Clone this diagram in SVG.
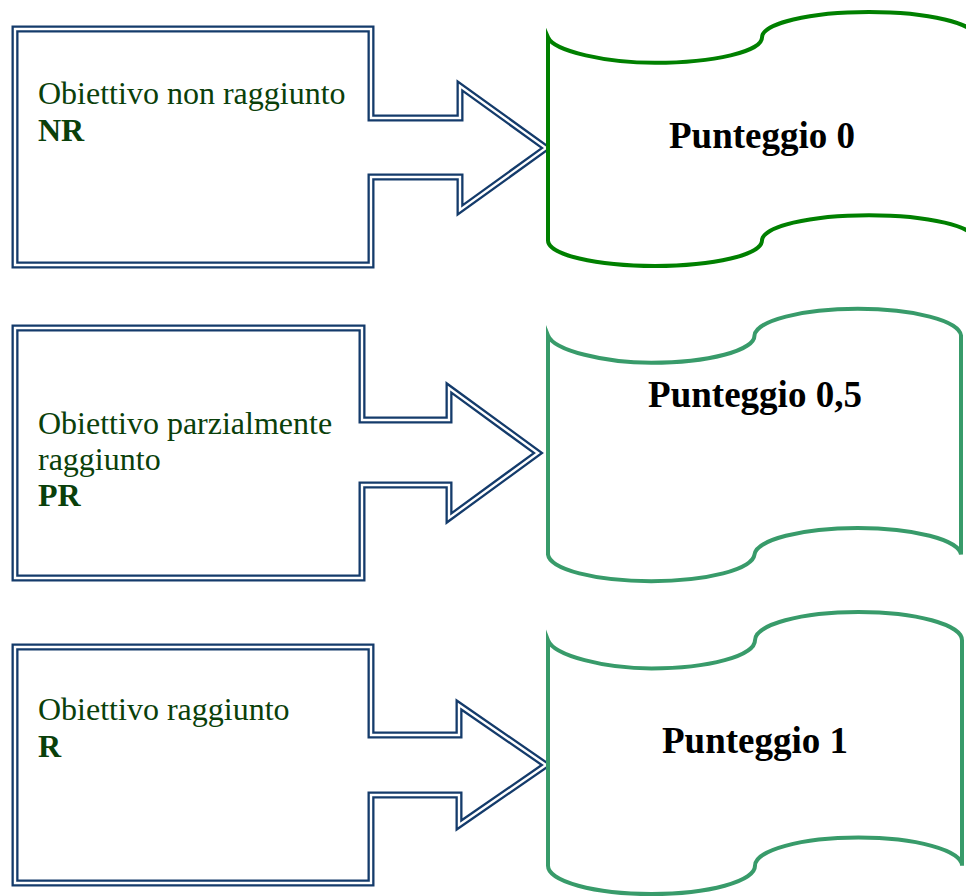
<svg xmlns="http://www.w3.org/2000/svg" width="966" height="896" viewBox="0 0 966 896">
<style>
.cal-o{fill:#ffffff;stroke:#143b6b;stroke-width:7;stroke-linejoin:miter}
.cal-i{fill:none;stroke:#ffffff;stroke-width:2.4;stroke-linejoin:miter}
.lbl{font-family:"Liberation Serif","Times New Roman",serif;font-size:32px;fill:#0a400a}
.lbl-b{font-weight:bold}
.tape{fill:#ffffff;stroke-width:4;stroke-linejoin:miter;stroke-miterlimit:8}
.t1{stroke:#008000}
.t2{stroke:#389b6a}
.score{font-family:"Liberation Serif","Times New Roman",serif;font-size:37px;font-weight:bold;fill:#000000;text-anchor:middle}
</style>
<rect width="966" height="896" fill="#ffffff"/>
<g id="connectors"/>
<g id="box-nr">
<path class="cal-o" d="M15,29 L371,29 L371,118 L460,118 L460,86 L546,148 L460,210 L460,177 L371,177 L371,265 L15,265 Z"/>
<path class="cal-i" d="M15,29 L371,29 L371,118 L460,118 L460,86 L546,148 L460,210 L460,177 L371,177 L371,265 L15,265 Z"/>
<text class="lbl" x="38" y="104">Obiettivo non raggiunto</text>
<text class="lbl lbl-b" x="38" y="141">NR</text>
</g>
<g id="box-pr">
<path class="cal-o" d="M15,328 L362,328 L362,420 L449,420 L449,388 L538,453 L449,518 L449,485 L362,485 L362,578 L15,578 Z"/>
<path class="cal-i" d="M15,328 L362,328 L362,420 L449,420 L449,388 L538,453 L449,518 L449,485 L362,485 L362,578 L15,578 Z"/>
<text class="lbl" x="38" y="434">Obiettivo parzialmente</text>
<text class="lbl" x="38" y="470">raggiunto</text>
<text class="lbl lbl-b" x="38" y="506">PR</text>
</g>
<g id="box-r">
<path class="cal-o" d="M15,647 L371,647 L371,735 L459,735 L459,705 L546,765 L459,825 L459,795 L371,795 L371,883 L15,883 Z"/>
<path class="cal-i" d="M15,647 L371,647 L371,735 L459,735 L459,705 L546,765 L459,825 L459,795 L371,795 L371,883 L15,883 Z"/>
<text class="lbl" x="38" y="720">Obiettivo raggiunto</text>
<text class="lbl lbl-b" x="38" y="757">R</text>
</g>
<g id="score-0">
<path class="tape t1" d="M548,37.4 C554,51.4 607,62.8 655,62.8 A107,25.4 0 0 0 762,37.4 A107,25.4 0 0 1 976,37.4 L976,240.6 A107,25.4 0 0 0 762,240.6 A107,25.4 0 0 1 548,240.6 Z"/>
<text class="score" x="762" y="148">Punteggio 0</text>
</g>
<g id="score-05">
<path class="tape t2" d="M548,335.4 C554,350.5 605,362.8 651.3,362.8 A103.3,27.4 0 0 0 754.5,335.4 A103.3,27.4 0 0 1 961,335.4 L961,554.6 A103.3,27.4 0 0 0 754.5,554.6 A103.3,27.4 0 0 1 548,554.6 Z"/>
<text class="score" x="755" y="407">Punteggio 0,5</text>
</g>
<g id="score-1">
<path class="tape t2" d="M548,640.2 C554,655.7 605,668.4 651.5,668.4 A103.5,28.2 0 0 0 755,640.2 A103.5,28.2 0 0 1 962,640.2 L962,865.8 A103.5,28.2 0 0 0 755,865.8 A103.5,28.2 0 0 1 548,865.8 Z"/>
<text class="score" x="755" y="753">Punteggio 1</text>
</g>
</svg>
